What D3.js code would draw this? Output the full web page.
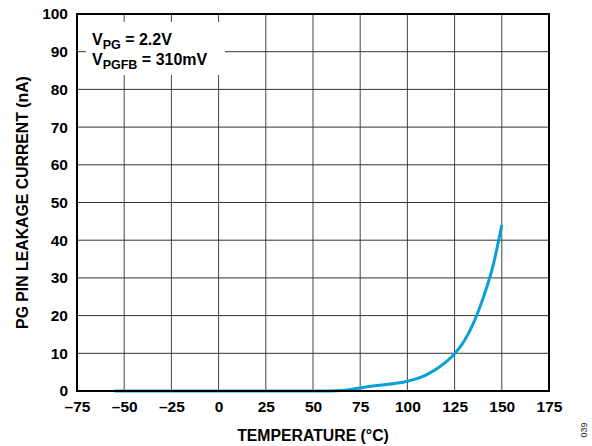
<!DOCTYPE html>
<html>
<head>
<meta charset="utf-8">
<script src="https://cdn.jsdelivr.net/npm/d3@7"></script>
<style>
body { margin: 0; background: #fff; }
text { font-family: Arial, "Liberation Sans", sans-serif; }
</style>
</head>
<body>
<svg id="plot" width="592" height="446"></svg>
<script>
// data
var temps = [-55, -40, -20, 0, 20, 40, 55, 62, 70, 75, 85, 95, 100, 105, 110, 115, 120, 125, 130, 135, 140, 145, 150];
var leakage = [0, 0, 0, 0, 0, 0, 0, 0.05, 0.4, 0.8, 1.5, 2.1, 2.6, 3.3, 4.3, 5.7, 7.5, 9.9, 13.2, 18, 24.5, 32.5, 44];
var xTicks = [-75, -50, -25, 0, 25, 50, 75, 100, 125, 150, 175];
var yTicks = [0, 10, 20, 30, 40, 50, 60, 70, 80, 90, 100];

var svg = d3.select('#plot'),
margin = {top: 14, right: 43, bottom: 55, left: 77},
width = +svg.attr("width") - margin.left - margin.right,
height = +svg.attr("height") - margin.top - margin.bottom;
var g = svg.append("g")
.attr("transform", "translate(" + margin.left + "," + margin.top + ")");

var x = d3.scaleLinear().domain([-75, 175]).range([0, width]),
y = d3.scaleLinear().domain([0, 100]).range([height, 0]);

//grid
g.selectAll('.vgrid')
    .data(xTicks)
    .enter()
    .append('line')
    .attr('class', 'vgrid')
    .attr('x1', function(d) { return x(d); })
    .attr('x2', function(d) { return x(d); })
    .attr('y1', 0)
    .attr('y2', height)
    .style('stroke', '#444')
    .style('stroke-width', 1);
g.selectAll('.hgrid')
    .data(yTicks)
    .enter()
    .append('line')
    .attr('class', 'hgrid')
    .attr('x1', 0)
    .attr('x2', width)
    .attr('y1', function(d) { return y(d); })
    .attr('y2', function(d) { return y(d); })
    .style('stroke', '#333')
    .style('stroke-width', 1);

//legend box covering the grid
g.append('rect')
    .attr('x', 9)
    .attr('y', 8)
    .attr('width', 139)
    .attr('height', 53)
    .style('fill', 'white');

var lab1 = g.append('text')
    .attr('x', 15)
    .attr('y', 31)
    .style('font-size', '16px')
    .style('font-weight', 'bold');
lab1.append('tspan').text('V');
lab1.append('tspan').attr('dy', 4).style('font-size', '12.5px').text('PG');
lab1.append('tspan').attr('dy', -4).text(' = 2.2V');

var lab2 = g.append('text')
    .attr('x', 15)
    .attr('y', 51)
    .style('font-size', '16px')
    .style('font-weight', 'bold');
lab2.append('tspan').text('V');
lab2.append('tspan').attr('dy', 4).style('font-size', '12.5px').text('PGFB');
lab2.append('tspan').attr('dy', -4).text(' = 310mV');

//curve
var line = d3.line()
    .x(function(d, i) { return x(temps[i]); })
    .y(function(d) { return y(d); })
    .curve(d3.curveMonotoneX);
g.append('path')
    .datum(leakage)
    .attr('d', line)
    .style('fill', 'none')
    .style('stroke', '#0a9fd8')
    .style('stroke-width', 3);

//frame
g.append('rect')
    .attr('width', width)
    .attr('height', height)
    .style('fill', 'none')
    .style('stroke', '#000')
    .style('stroke-width', 2);

//axes
var fmt = function(d) { return d < 0 ? '\u2013' + Math.abs(d) : '' + d; };
var xAxis = g.append("g")
    .attr('transform', 'translate(0,' + height + ')')
    .call(d3.axisBottom(x).tickValues(xTicks).tickFormat(fmt).tickSize(0).tickPadding(10));
var yAxis = g.append("g")
    .call(d3.axisLeft(y).tickValues(yTicks).tickSize(0).tickPadding(9));
[xAxis, yAxis].forEach(function(a) {
    a.select('.domain').remove();
    a.selectAll('text')
        .style('font-family', 'Arial, "Liberation Sans", sans-serif')
        .style('font-size', '15.5px')
        .style('font-weight', 'bold')
        .style('fill', '#000');
});

svg.append('text')
    .attr('x', margin.left + width / 2)
    .attr('y', 441)
    .attr('text-anchor', 'middle')
    .style('font-size', '15.8px')
    .style('font-weight', 'bold')
    .text('TEMPERATURE (\u00B0C)');

svg.append('text')
    .attr('transform', 'translate(28,' + (margin.top + height / 2) + ') rotate(-90)')
    .attr('text-anchor', 'middle')
    .style('font-size', '15.8px')
    .style('font-weight', 'bold')
    .text('PG PIN LEAKAGE CURRENT (nA)');

svg.append('text')
    .attr('transform', 'translate(587,430) rotate(-90)')
    .attr('text-anchor', 'middle')
    .style('font-size', '9px')
    .style('fill', '#222')
    .text('039');
</script>
</body>
</html>
